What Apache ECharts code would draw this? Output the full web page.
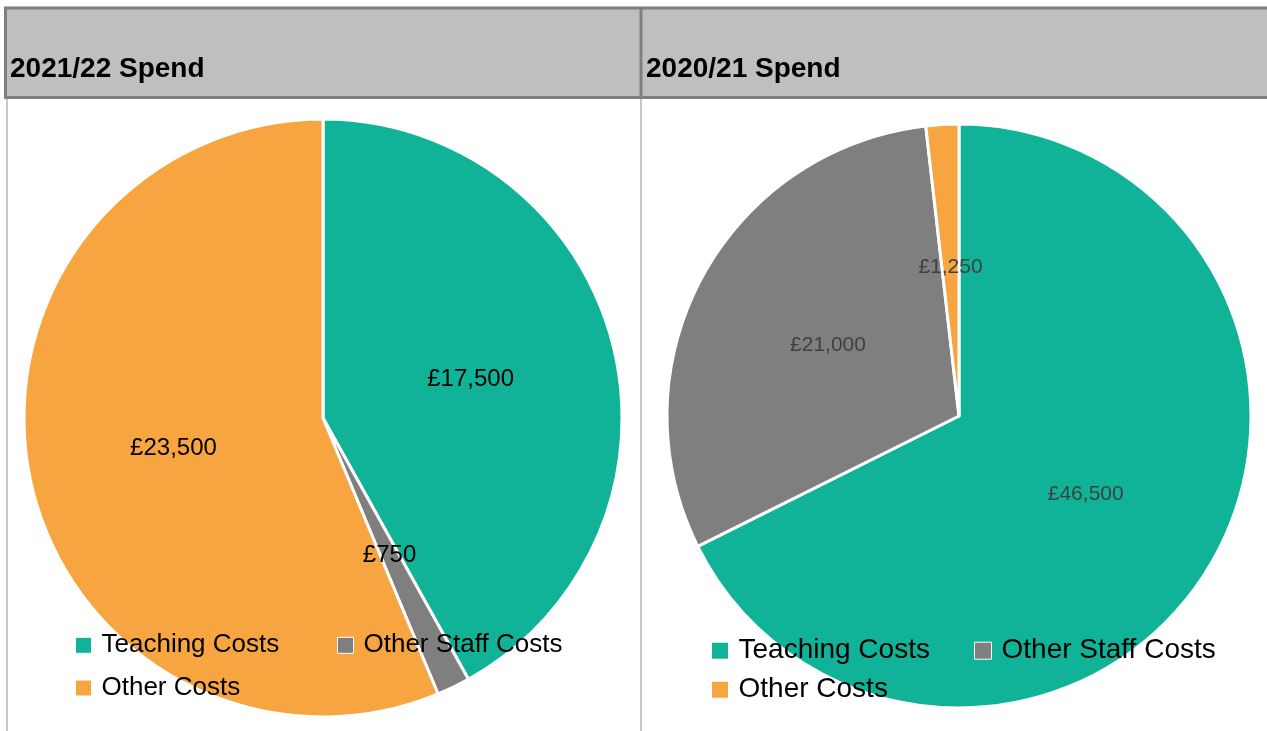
<!DOCTYPE html>
<html><head><meta charset="utf-8">
<script src="https://cdn.jsdelivr.net/npm/echarts@6/dist/echarts.min.js"></script>
<style>html,body{margin:0;padding:0;background:#fff}#c{width:1267px;height:731px}</style>
</head><body><div id="c"></div>
<script>
const categories = ['Teaching Costs', 'Other Staff Costs', 'Other Costs'];
const spend2122 = [17500, 750, 23500];
const spend2021 = [46500, 21000, 1250];
const panelTitles = ['2021/22 Spend', '2020/21 Spend'];
const sliceColors = ['#10B398', '#7F7F7F', '#F7A540'];

const chart = echarts.init(document.getElementById('c'), null, {renderer: 'canvas'});
const FONT = '"Liberation Sans", Arial, sans-serif';
const fmt = p => '£' + p.value.toLocaleString('en-GB');

function pieData(vals, order) {
  return order.map(i => ({name: categories[i], value: vals[i], itemStyle: {color: sliceColors[i]}}));
}

function legendItem(name, left, centerY, size, fontSize) {
  const lh = fontSize + 2;
  const shift = 6;
  return {
    data: [name], left: left, top: centerY - (lh + 2 * shift) / 2, padding: 0,
    orient: 'horizontal', icon: 'rect', itemWidth: size, itemHeight: size,
    selectedMode: false,
    textStyle: {fontFamily: FONT, fontSize: fontSize, color: '#000', lineHeight: lh, padding: [0, 0, 2 * shift, 5]},
    itemStyle: {borderColor: '#fff', borderWidth: 1}
  };
}

const option = {
  animation: false,
  backgroundColor: '#fff',
  title: [
    {text: panelTitles[0], left: 10, top: 55, padding: 0, textStyle: {fontFamily: FONT, fontWeight: 'bold', fontSize: 28, color: '#000'}},
    {text: panelTitles[1], left: 646, top: 55, padding: 0, textStyle: {fontFamily: FONT, fontWeight: 'bold', fontSize: 28, color: '#000'}}
  ],
  graphic: [
    {type: 'rect', z: -10, shape: {x: 6, y: 8, width: 1261, height: 90}, style: {fill: '#BFBFBF'}},
    {type: 'line', z: -9, shape: {x1: 4, y1: 8, x2: 1267, y2: 8}, style: {stroke: '#7F7F7F', lineWidth: 3}},
    {type: 'line', z: -9, shape: {x1: 4, y1: 97.5, x2: 1267, y2: 97.5}, style: {stroke: '#7F7F7F', lineWidth: 3}},
    {type: 'line', z: -9, shape: {x1: 5.5, y1: 7, x2: 5.5, y2: 99}, style: {stroke: '#7F7F7F', lineWidth: 3}},
    {type: 'line', z: -9, shape: {x1: 641, y1: 7, x2: 641, y2: 99}, style: {stroke: '#7F7F7F', lineWidth: 3}},
    {type: 'line', z: -9, shape: {x1: 7, y1: 99, x2: 7, y2: 731}, style: {stroke: '#C8C8C8', lineWidth: 2}},
    {type: 'line', z: -9, shape: {x1: 641, y1: 99, x2: 641, y2: 731}, style: {stroke: '#C8C8C8', lineWidth: 2}}
  ],
  legend: [
    legendItem(categories[0], 75, 645.3, 16, 26),
    legendItem(categories[1], 337, 645.3, 16, 26),
    legendItem(categories[2], 75, 688, 16, 26),
    legendItem(categories[0], 711, 650.7, 17, 28),
    legendItem(categories[1], 974, 650.7, 17, 28),
    legendItem(categories[2], 711, 689.7, 17, 28)
  ],
  series: [
    {
      type: 'pie', center: [323, 418], radius: [0, 299], startAngle: 90, clockwise: true,
      avoidLabelOverlap: false, minAngle: 0,
      data: pieData(spend2122, [0, 1, 2]),
      itemStyle: {borderColor: '#fff', borderWidth: 3},
      label: {show: true, position: 'inside', formatter: fmt, fontFamily: FONT, fontSize: 24, color: '#000'},
      labelLine: {show: false},
      emphasis: {disabled: true}
    },
    {
      type: 'pie', center: [959, 416], radius: [0, 292], startAngle: 90, clockwise: true,
      avoidLabelOverlap: false, minAngle: 0,
      data: pieData(spend2021, [0, 1, 2]),
      itemStyle: {borderColor: '#fff', borderWidth: 3},
      label: {show: true, position: 'inside', formatter: fmt, fontFamily: FONT, fontSize: 21, color: '#404040'},
      labelLine: {show: false},
      emphasis: {disabled: true}
    }
  ]
};
chart.setOption(option);
</script></body></html>
